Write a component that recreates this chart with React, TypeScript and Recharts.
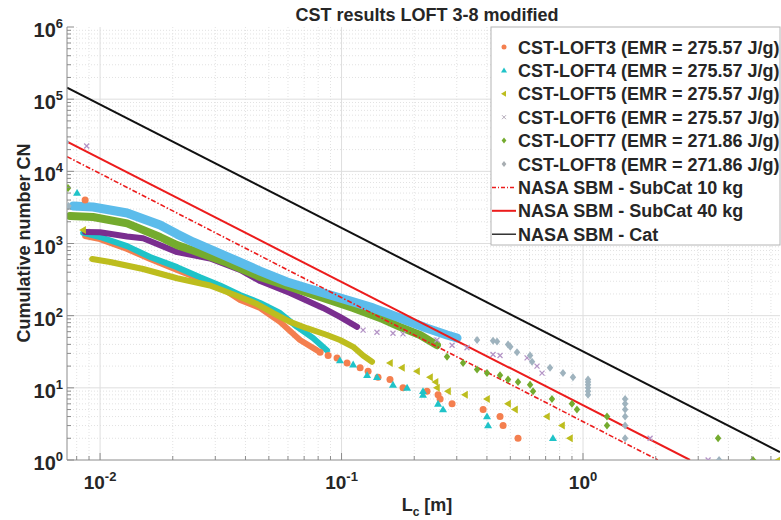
import React from "react"
import { ComposedChart, Line, Scatter, XAxis, YAxis, ReferenceLine } from "recharts"

const FONT = '"Liberation Sans", Arial, Helvetica, sans-serif'
const AXIS = "#8c8c8c"
const TEXT = "#262626"

const C3 = "#F47F4F" // LOFT3
const C4 = "#1FC3C8" // LOFT4
const C5 = "#BDBD1E" // LOFT5
const C6 = "#7A2E8F" // LOFT6 band
const C6T = "#B494C6" // LOFT6 sparse
const C7 = "#74AB2E" // LOFT7
const C8 = "#5CBCEB" // LOFT8 band
const C8T = "#9FB3BE" // LOFT8 sparse
const RED = "#EC1C1C"

const xMajor = [0.01, 0.1, 1]
const xExp = ["-2", "-1", "0"]
const xMinor = [0.008, 0.009, 0.02, 0.03, 0.04, 0.05, 0.06, 0.07, 0.08, 0.09, 0.2, 0.3, 0.4, 0.5, 0.6, 0.7, 0.8, 0.9, 2, 3, 4, 5, 6]
const yMajor = [1, 10, 100, 1000, 10000, 100000, 1000000]
const yExp = ["0", "1", "2", "3", "4", "5", "6"]
const yMinor = [
  2, 3, 4, 5, 6, 7, 8, 9,
  20, 30, 40, 50, 60, 70, 80, 90,
  200, 300, 400, 500, 600, 700, 800, 900,
  2000, 3000, 4000, 5000, 6000, 7000, 8000, 9000,
  20000, 30000, 40000, 50000, 60000, 70000, 80000, 90000,
  200000, 300000, 400000, 500000, 600000, 700000, 800000, 900000,
]
const xTicks = [...xMajor, ...xMinor].sort((a, b) => a - b)
const yTicks = [...yMajor, ...yMinor].sort((a, b) => a - b)

const legendNames = [
  "CST-LOFT3 (EMR = 275.57 J/g)",
  "CST-LOFT4 (EMR = 275.57 J/g)",
  "CST-LOFT5 (EMR = 275.57 J/g)",
  "CST-LOFT6 (EMR = 275.57 J/g)",
  "CST-LOFT7 (EMR = 271.86 J/g)",
  "CST-LOFT8 (EMR = 271.86 J/g)",
  "NASA SBM - SubCat 10 kg",
  "NASA SBM - SubCat 40 kg",
  "NASA SBM - Cat",
]

// dense parts of the cumulative curves
const loft3Band = [
  { x: 0.00867, y: 1270 }, { x: 0.01, y: 1150 }, { x: 0.01294, y: 840 }, { x: 0.01611, y: 610 },
  { x: 0.02084, y: 430 }, { x: 0.02595, y: 322 }, { x: 0.0314, y: 250 }, { x: 0.038, y: 165 },
  { x: 0.046, y: 128 }, { x: 0.0556, y: 82 }, { x: 0.0673, y: 46 }, { x: 0.0792, y: 33 },
]
const loft4Band = [
  { x: 0.00851, y: 1400 }, { x: 0.01, y: 1230 }, { x: 0.01294, y: 920 }, { x: 0.01611, y: 650 },
  { x: 0.02084, y: 470 }, { x: 0.02595, y: 340 }, { x: 0.0314, y: 262 }, { x: 0.038, y: 193 },
  { x: 0.046, y: 150 }, { x: 0.0556, y: 109 }, { x: 0.0654, y: 70 }, { x: 0.0762, y: 49 }, { x: 0.0871, y: 33 },
]
const loft5Band = [
  { x: 0.00927, y: 610 }, { x: 0.011, y: 554 }, { x: 0.01507, y: 443 }, { x: 0.02084, y: 330 },
  { x: 0.02854, y: 262 }, { x: 0.038, y: 181 }, { x: 0.0447, y: 145 }, { x: 0.052, y: 109 },
  { x: 0.0612, y: 82 }, { x: 0.0719, y: 67 }, { x: 0.0871, y: 54 }, { x: 0.0985, y: 46 },
  { x: 0.1117, y: 37 }, { x: 0.1228, y: 28 }, { x: 0.1337, y: 23 },
]
const loft6Band = [
  { x: 0.00867, y: 1440 }, { x: 0.01, y: 1430 }, { x: 0.01294, y: 1250 }, { x: 0.01507, y: 1180 },
  { x: 0.02084, y: 760 }, { x: 0.02854, y: 620 }, { x: 0.038, y: 430 }, { x: 0.046, y: 302 },
  { x: 0.0612, y: 206 }, { x: 0.0838, y: 128 }, { x: 0.0985, y: 96 }, { x: 0.116, y: 70 },
]
const loft7Band = [
  { x: 0.00751, y: 2400 }, { x: 0.00935, y: 2330 }, { x: 0.01294, y: 1900 }, { x: 0.01772, y: 1230 },
  { x: 0.02084, y: 950 }, { x: 0.02427, y: 800 }, { x: 0.03357, y: 540 }, { x: 0.046, y: 343 },
  { x: 0.0595, y: 258 }, { x: 0.0815, y: 181 }, { x: 0.1117, y: 128 }, { x: 0.1443, y: 93 },
  { x: 0.1746, y: 70 }, { x: 0.2114, y: 54 }, { x: 0.2484, y: 39 },
]
const loft8Band = [
  { x: 0.00773, y: 3310 }, { x: 0.00935, y: 3200 }, { x: 0.01294, y: 2650 }, { x: 0.01772, y: 1800 },
  { x: 0.02084, y: 1350 }, { x: 0.02427, y: 1050 }, { x: 0.03357, y: 660 }, { x: 0.046, y: 415 },
  { x: 0.0595, y: 293 }, { x: 0.0815, y: 213 }, { x: 0.1117, y: 155 }, { x: 0.135, y: 128 },
  { x: 0.1746, y: 93 }, { x: 0.2259, y: 67 }, { x: 0.2734, y: 54 }, { x: 0.3008, y: 49 },
]

// sparse points (first fragments and large-size tails)
const loft3Pts = [
  { x: 0.00867, y: 4000 }, { x: 0.0815, y: 31 }, { x: 0.088, y: 28 }, { x: 0.0958, y: 26 },
  { x: 0.1054, y: 22 }, { x: 0.1194, y: 19 }, { x: 0.1288, y: 17 }, { x: 0.1416, y: 14 },
  { x: 0.1587, y: 13 }, { x: 0.1797, y: 10 }, { x: 0.2259, y: 9 }, { x: 0.251, y: 8 },
  { x: 0.256, y: 7 }, { x: 0.2869, y: 6 }, { x: 0.3857, y: 5 }, { x: 0.4533, y: 4 },
  { x: 0.4667, y: 3 }, { x: 0.5381, y: 2 },
]
const loft4Pts = [
  { x: 0.00803, y: 5000 }, { x: 0.0985, y: 24 }, { x: 0.1117, y: 21 }, { x: 0.1276, y: 15 },
  { x: 0.1402, y: 14 }, { x: 0.1633, y: 11 }, { x: 0.1868, y: 10 }, { x: 0.2174, y: 9 },
  { x: 0.2174, y: 8 }, { x: 0.251, y: 6 }, { x: 0.2632, y: 5 }, { x: 0.4003, y: 4 },
  { x: 0.4044, y: 3 }, { x: 0.7508, y: 2 },
]
const loft5Pts = [
  { x: 0.00851, y: 1540 }, { x: 0.1587, y: 22 }, { x: 0.1779, y: 19 }, { x: 0.2054, y: 17 },
  { x: 0.2325, y: 14 }, { x: 0.245, y: 12 }, { x: 0.2484, y: 10 }, { x: 0.276, y: 9 },
  { x: 0.3246, y: 8 }, { x: 0.4003, y: 7 }, { x: 0.4893, y: 6 }, { x: 0.5228, y: 5 },
  { x: 0.7092, y: 4 }, { x: 0.8185, y: 3 }, { x: 0.8829, y: 2 }, { x: 6.45, y: 1 },
]
const loft6Pts = [
  { x: 0.0088, y: 22400 }, { x: 0.1228, y: 63 }, { x: 0.1402, y: 59 }, { x: 0.1633, y: 57 },
  { x: 0.1797, y: 56 }, { x: 0.2484, y: 46 }, { x: 0.2869, y: 39 }, { x: 0.3308, y: 36 },
  { x: 0.424, y: 29 }, { x: 0.4533, y: 28 }, { x: 0.5865, y: 26 }, { x: 0.6449, y: 20 },
  { x: 0.6765, y: 16 }, { x: 1.896, y: 2 }, { x: 3.296, y: 1 },
]
const loft7Pts = [
  { x: 0.00737, y: 5870 }, { x: 0.2734, y: 27 }, { x: 0.3186, y: 22 }, { x: 0.3641, y: 18 },
  { x: 0.4003, y: 16 }, { x: 0.4533, y: 15 }, { x: 0.4893, y: 13 }, { x: 0.5381, y: 12 },
  { x: 0.6037, y: 11 }, { x: 0.621, y: 9 }, { x: 0.7437, y: 7 }, { x: 0.9, y: 6 },
  { x: 0.9437, y: 5 }, { x: 1.257, y: 4 }, { x: 1.257, y: 3 }, { x: 3.626, y: 2 }, { x: 5.06, y: 1 },
]
const loft8Pts = [
  { x: 0.00723, y: 25500 }, { x: 0.0074, y: 3300 }, { x: 0.3641, y: 46 }, { x: 0.424, y: 45 },
  { x: 0.4405, y: 44 }, { x: 0.4893, y: 40 }, { x: 0.5, y: 37 }, { x: 0.533, y: 31 },
  { x: 0.6037, y: 28 }, { x: 0.6152, y: 23 }, { x: 0.73, y: 19 }, { x: 0.8261, y: 16 },
  { x: 0.9085, y: 14 }, { x: 1.049, y: 13 }, { x: 1.049, y: 12 }, { x: 1.049, y: 11 },
  { x: 1.049, y: 10 }, { x: 1.049, y: 9 }, { x: 1.049, y: 8 }, { x: 1.494, y: 7 },
  { x: 1.494, y: 6 }, { x: 1.494, y: 5 }, { x: 1.494, y: 4 }, { x: 1.494, y: 3 },
  { x: 1.494, y: 2 }, { x: 3.66, y: 1 },
]

// NASA breakup model lines (end points)
const subCat10 = [{ x: 0.0073, y: 16000 }, { x: 2.04, y: 1 }]
const subCat40 = [{ x: 0.0073, y: 25760 }, { x: 2.774, y: 1 }]
const catLine = [{ x: 0.0073, y: 144500 }, { x: 6.54, y: 1.29 }]

const dot = (color: string, r: number) => (p: any) => <circle cx={p.cx} cy={p.cy} r={r} fill={color} />
const triUp = (color: string, s: number) => (p: any) => (
  <path d={`M${p.cx},${p.cy - s}L${p.cx + s},${p.cy + s * 0.7}L${p.cx - s},${p.cy + s * 0.7}Z`} fill={color} />
)
const triLeft = (color: string, s: number) => (p: any) => (
  <path d={`M${p.cx - s},${p.cy}L${p.cx + s * 0.7},${p.cy - s}L${p.cx + s * 0.7},${p.cy + s}Z`} fill={color} />
)
const cross = (color: string, s: number) => (p: any) => (
  <path d={`M${p.cx - s},${p.cy - s}L${p.cx + s},${p.cy + s}M${p.cx - s},${p.cy + s}L${p.cx + s},${p.cy - s}`} stroke={color} strokeWidth={1.3} />
)
const diamond = (color: string, s: number) => (p: any) => (
  <path d={`M${p.cx},${p.cy - s}L${p.cx + s * 0.8},${p.cy}L${p.cx},${p.cy + s}L${p.cx - s * 0.8},${p.cy}Z`} fill={color} />
)

function XTick({ x, y, payload }: any) {
  const i = xMajor.indexOf(payload.value)
  return (
    <g>
      <line x1={x} x2={x} y1={y} y2={y - (i >= 0 ? 7 : 4)} stroke={AXIS} />
      {i >= 0 && (
        <text x={x} y={y + 29} textAnchor="middle" fontFamily={FONT} fontWeight="bold" fontSize={19} fill={TEXT}>
          <tspan>10</tspan>
          <tspan dy={-8} fontSize={13}>{xExp[i]}</tspan>
        </text>
      )}
    </g>
  )
}

function TopTick({ x, y, payload }: any) {
  const major = xMajor.indexOf(payload.value) >= 0
  return <line x1={x} x2={x} y1={y} y2={y + (major ? 7 : 4)} stroke={AXIS} />
}

function YTick({ x, y, payload }: any) {
  const i = yMajor.indexOf(payload.value)
  return (
    <g>
      <line x1={x} x2={x + (i >= 0 ? 7 : 4)} y1={y} y2={y} stroke={AXIS} />
      {i >= 0 && (
        <text x={x - 4} y={y + 10} textAnchor="end" fontFamily={FONT} fontWeight="bold" fontSize={20} fill={TEXT}>
          <tspan>10</tspan>
          <tspan dy={-9} fontSize={13}>{yExp[i]}</tspan>
        </text>
      )}
    </g>
  )
}

function LegendBox() {
  const rowY = (i: number) => 47 + i * 23.4
  const mx = 504
  return (
    <g>
      <rect x={491} y={27} width={289} height={218} fill="#fff" stroke="#b4b4b4" />
      <circle cx={mx} cy={rowY(0)} r={2.5} fill={C3} />
      <path d={`M${mx},${rowY(1) - 3}L${mx + 3},${rowY(1) + 2}L${mx - 3},${rowY(1) + 2}Z`} fill={C4} />
      <path d={`M${mx - 3},${rowY(2)}L${mx + 2},${rowY(2) - 3}L${mx + 2},${rowY(2) + 3}Z`} fill={C5} />
      <path d={`M${mx - 2},${rowY(3) - 2}L${mx + 2},${rowY(3) + 2}M${mx - 2},${rowY(3) + 2}L${mx + 2},${rowY(3) - 2}`} stroke="#b3aab9" />
      <path d={`M${mx},${rowY(4) - 3}L${mx + 2.4},${rowY(4)}L${mx},${rowY(4) + 3}L${mx - 2.4},${rowY(4)}Z`} fill={C7} />
      <path d={`M${mx},${rowY(5) - 3}L${mx + 2.4},${rowY(5)}L${mx},${rowY(5) + 3}L${mx - 2.4},${rowY(5)}Z`} fill="#a8aeb2" />
      <line x1={492} x2={516} y1={rowY(6)} y2={rowY(6)} stroke={RED} strokeWidth={1.5} strokeDasharray="4 2 1 2" />
      <line x1={492} x2={516} y1={rowY(7)} y2={rowY(7)} stroke={RED} strokeWidth={2} />
      <line x1={492} x2={516} y1={rowY(8)} y2={rowY(8)} stroke="#111" strokeWidth={1.3} />
      {legendNames.map((n, i) => (
        <text key={n} x={518} y={rowY(i) + 6.5} fontFamily={FONT} fontWeight="bold" fontSize={18} fill={TEXT}>
          {n}
        </text>
      ))}
    </g>
  )
}

export default function App() {
  return (
    <div style={{ position: "absolute", left: 0, top: 0, width: 781, height: 520, background: "#fff" }}>
      <ComposedChart width={781} height={520} margin={{ top: 27, right: 1, left: 0, bottom: 0 }}>
        <XAxis
          dataKey="x"
          type="number"
          scale="log"
          domain={[0.007295, 6.543]}
          allowDataOverflow
          ticks={xTicks}
          interval={0}
          tickSize={0}
          tickMargin={0}
          tickLine={false}
          tick={<XTick />}
          height={60}
          axisLine={{ stroke: AXIS }}
        />
        <XAxis
          xAxisId="top"
          orientation="top"
          dataKey="x"
          type="number"
          scale="log"
          domain={[0.007295, 6.543]}
          allowDataOverflow
          ticks={xTicks}
          interval={0}
          tickSize={0}
          tickMargin={0}
          tickLine={false}
          tick={<TopTick />}
          height={0}
          axisLine={{ stroke: AXIS }}
        />
        <YAxis
          dataKey="y"
          type="number"
          scale="log"
          domain={[1, 1000000]}
          allowDataOverflow
          ticks={yTicks}
          interval={0}
          tickSize={0}
          tickMargin={0}
          tickLine={false}
          tick={<YTick />}
          width={67}
          axisLine={{ stroke: AXIS }}
        />
        {xMinor.map((v) => (
          <ReferenceLine key={"xm" + v} x={v} stroke="#e2e2e2" strokeDasharray="1 2" />
        ))}
        {yMinor.map((v) => (
          <ReferenceLine key={"ym" + v} y={v} stroke="#e2e2e2" strokeDasharray="1 2" />
        ))}
        {xMajor.map((v) => (
          <ReferenceLine key={"xM" + v} x={v} stroke="#dedede" />
        ))}
        {yMajor.slice(1, -1).map((v) => (
          <ReferenceLine key={"yM" + v} y={v} stroke="#dedede" />
        ))}

        <Line data={loft3Band} dataKey="y" stroke={C3} strokeWidth={6} dot={false} activeDot={false} strokeLinecap="round" strokeLinejoin="round" isAnimationActive={false} />
        <Scatter data={loft3Pts} shape={dot(C3, 3.5)} isAnimationActive={false} />
        <Line data={loft4Band} dataKey="y" stroke={C4} strokeWidth={6} dot={false} activeDot={false} strokeLinecap="round" strokeLinejoin="round" isAnimationActive={false} />
        <Scatter data={loft4Pts} shape={triUp(C4, 4)} isAnimationActive={false} />
        <Line data={loft5Band} dataKey="y" stroke={C5} strokeWidth={6} dot={false} activeDot={false} strokeLinecap="round" strokeLinejoin="round" isAnimationActive={false} />
        <Scatter data={loft5Pts} shape={triLeft(C5, 4)} isAnimationActive={false} />
        <Line data={loft6Band} dataKey="y" stroke={C6} strokeWidth={6} dot={false} activeDot={false} strokeLinecap="round" strokeLinejoin="round" isAnimationActive={false} />
        <Scatter data={loft6Pts} shape={cross(C6T, 2.5)} isAnimationActive={false} />
        <Line data={loft7Band} dataKey="y" stroke={C7} strokeWidth={8} dot={false} activeDot={false} strokeLinecap="round" strokeLinejoin="round" isAnimationActive={false} />
        <Scatter data={loft7Pts} shape={diamond(C7, 4)} isAnimationActive={false} />
        <Line data={loft8Band} dataKey="y" stroke={C8} strokeWidth={9} dot={false} activeDot={false} strokeLinecap="round" strokeLinejoin="round" isAnimationActive={false} />
        <Scatter data={loft8Pts} shape={diamond(C8T, 4)} isAnimationActive={false} />

        <Line data={subCat10} dataKey="y" stroke={RED} strokeWidth={1.6} strokeDasharray="5 2 1.5 2" dot={false} activeDot={false} isAnimationActive={false} />
        <Line data={subCat40} dataKey="y" stroke={RED} strokeWidth={2} dot={false} activeDot={false} isAnimationActive={false} />
        <Line data={catLine} dataKey="y" stroke="#111" strokeWidth={2} dot={false} activeDot={false} isAnimationActive={false} />
      </ComposedChart>
      <svg width={781} height={520} style={{ position: "absolute", left: 0, top: 0, pointerEvents: "none" }}>
        <text x={427} y={21} textAnchor="middle" fontFamily={FONT} fontWeight="bold" fontSize={18} fill={TEXT}>
          CST results LOFT 3-8 modified
        </text>
        <text transform="translate(30,243) rotate(-90)" textAnchor="middle" fontFamily={FONT} fontWeight="bold" fontSize={18} fill={TEXT}>
          Cumulative number CN
        </text>
        <text x={427} y={511} textAnchor="middle" fontFamily={FONT} fontWeight="bold" fontSize={18} fill={TEXT}>
          <tspan>L</tspan>
          <tspan dy={5} fontSize={12}>c</tspan>
          <tspan dy={-5}> [m]</tspan>
        </text>
        <LegendBox />
      </svg>
    </div>
  )
}
